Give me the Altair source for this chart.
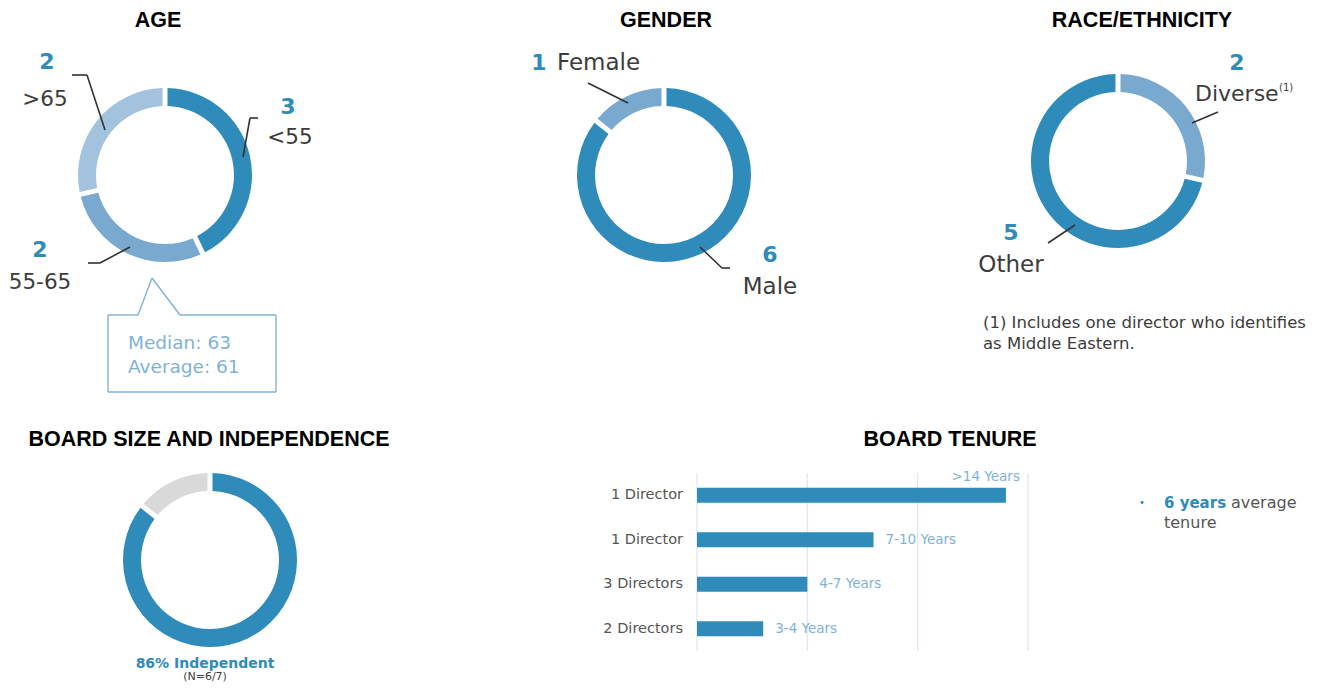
import altair as alt
import pandas as pd

# ---------------- data ----------------
age_labels = ["<55", "55-65", ">65"]
age_counts = [3, 2, 2]
gender_labels = ["Male", "Female"]
gender_counts = [6, 1]
race_labels = ["Diverse", "Other"]
race_counts = [2, 5]
indep_labels = ["Independent", "Not independent"]
indep_counts = [6, 1]

tenure_ranges = [">14 Years", "7-10 Years", "4-7 Years", "3-4 Years"]
tenure_directors = ["1 Director", "1 Director", "3 Directors", "2 Directors"]
tenure_years = [14, 8, 5, 3]
tenure_ticks = [0, 5, 10, 15]

# ---------------- styles ----------------
BLUE = "#2e8bba"
MID = "#79a9cf"
LIGHT = "#a2c2de"
GRAY = "#d9d9d9"
TXT = "#3c3c3c"
LBLUE = "#7fb2d7"
GRID = "#dfe8f4"
LINE = "#333333"
BODY = "DejaVu Sans"
TITLE = "Liberation Sans"

OFF = 8
R_OUT, R_IN, PAD = 87, 69, 0.045
TOTAL = sum(age_counts)


def px(v):
    return v - OFF


one = pd.DataFrame({"k": [0]})


def seg(x1, y1, x2, y2, color=LINE, width=1.6):
    return alt.Chart(one).mark_rule(color=color, strokeWidth=width).encode(
        x=alt.value(px(x1)), y=alt.value(px(y1)),
        x2=alt.value(px(x2)), y2=alt.value(px(y2)))


def label(text, x, y, size, color=TXT, bold=False, align="center", font=BODY):
    return alt.Chart(one).mark_text(
        text=text, fontSize=size, color=color,
        fontWeight="bold" if bold else "normal",
        align=align, baseline="middle", font=font,
    ).encode(x=alt.value(px(x)), y=alt.value(px(y)))


color_domain = age_labels + gender_labels + race_labels + indep_labels
color_range = [BLUE, MID, LIGHT, BLUE, MID, MID, BLUE, BLUE, GRAY]


def donut(labels, counts, cx, cy):
    df = pd.DataFrame({"segment": labels, "count": counts, "i": list(range(len(labels)))})
    return alt.Chart(df).mark_arc(radius=R_OUT, radius2=R_IN, padAngle=PAD).encode(
        theta=alt.Theta("count:Q", stack=True, scale=alt.Scale(domain=[0, TOTAL])),
        color=alt.Color("segment:N", scale=alt.Scale(domain=color_domain, range=color_range), legend=None),
        order=alt.Order("i:Q"),
        x=alt.value(px(cx)), y=alt.value(px(cy)),
    )


layers = []

# titles
TS = 21.5
layers += [
    label("AGE", 158, 21, TS, "#000000", True, font=TITLE),
    label("GENDER", 666, 21, TS, "#000000", True, font=TITLE),
    label("RACE/ETHNICITY", 1142, 21, TS, "#000000", True, font=TITLE),
    label("BOARD SIZE AND INDEPENDENCE", 209, 440, TS, "#000000", True, font=TITLE),
    label("BOARD TENURE", 950, 440, TS, "#000000", True, font=TITLE),
]

# donuts
layers += [
    donut(age_labels, age_counts, 165, 175),
    donut(gender_labels, gender_counts, 664, 175),
    donut(race_labels, race_counts, 1118, 161),
    donut(indep_labels, indep_counts, 210, 560),
]

LS = 21.5
# AGE annotations
layers += [
    label("2", 47, 62, 22, BLUE, True),
    label(">65", 45, 100, LS),
    seg(72, 75, 87, 75), seg(87, 75, 105, 130),
    label("3", 288, 107, 22, BLUE, True),
    label("<55", 290, 138, LS),
    seg(258, 118, 250, 118), seg(250, 118, 243, 157),
    label("2", 40, 250, 22, BLUE, True),
    label("55-65", 40, 283, LS),
    seg(88, 263, 100, 263), seg(100, 263, 130, 247),
]
# callout box
layers += [
    seg(108, 315, 138, 315, LBLUE, 1.4), seg(138, 315, 152, 278, LBLUE, 1.4),
    seg(152, 278, 180, 315, LBLUE, 1.4), seg(180, 315, 276, 315, LBLUE, 1.4),
    seg(276, 315, 276, 392, LBLUE, 1.4), seg(276, 392, 108, 392, LBLUE, 1.4),
    seg(108, 392, 108, 315, LBLUE, 1.4),
    label("Median: 63", 128, 343, 18.5, LBLUE, align="left"),
    label("Average: 61", 128, 367, 18.5, LBLUE, align="left"),
]

# GENDER annotations
layers += [
    label("1", 539, 63, 22, BLUE, True),
    label("Female", 557, 63, 23, align="left"),
    seg(588, 83, 628, 103),
    label("6", 770, 255, 22, BLUE, True),
    label("Male", 770, 287, 23),
    seg(700, 247, 722, 268), seg(722, 268, 730, 268),
]

# RACE annotations
layers += [
    label("2", 1237, 63, 22, BLUE, True),
    label("Diverse", 1195, 94, 22, align="left"),
    label("(1)", 1279, 88, 10, align="left"),
    seg(1218, 112, 1192, 123),
    label("5", 1011, 233, 22, BLUE, True),
    label("Other", 1011, 265, 23),
    seg(1075, 225, 1048, 243),
    label("(1) Includes one director who identifies", 983, 323, 16.5, align="left"),
    label("as Middle Eastern.", 983, 344, 16.5, align="left"),
]

# BOARD SIZE annotations
layers += [
    label("86% Independent", 205, 664, 14, BLUE, True),
    label("(N=6/7)", 205, 677, 11),
]

# BOARD TENURE bars
ten = pd.DataFrame({"range": tenure_ranges, "directors": tenure_directors, "years": tenure_years})
grid = pd.DataFrame({"tick": tenure_ticks})
xs = alt.Scale(domain=[0, 15], range=[px(697), px(1028)])
ys = alt.Scale(domain=tenure_ranges, range=[px(473), px(651)])

layers += [
    alt.Chart(grid).mark_rule(color=GRID, strokeWidth=1.3).encode(
        x=alt.X("tick:Q", scale=xs, axis=None),
        y=alt.value(px(473)), y2=alt.value(px(651))),
    alt.Chart(ten).mark_bar(size=15, color=BLUE).encode(
        x=alt.X("years:Q", scale=xs, axis=None),
        y=alt.Y("range:N", scale=ys, axis=None)),
    alt.Chart(ten).mark_text(align="right", baseline="middle", fontSize=14.5, color="#555555", font=BODY).encode(
        x=alt.value(px(683)),
        y=alt.Y("range:N", scale=ys, axis=None),
        text="directors:N"),
    alt.Chart(ten).transform_filter(alt.datum.range != tenure_ranges[0]).mark_text(
        align="left", baseline="middle", dx=12, fontSize=13.5, color=LBLUE, font=BODY).encode(
        x=alt.X("years:Q", scale=xs, axis=None),
        y=alt.Y("range:N", scale=ys, axis=None),
        text="range:N"),
    alt.Chart(ten).transform_filter(alt.datum.range == tenure_ranges[0]).mark_text(
        align="right", baseline="middle", dx=14, dy=-18, fontSize=13.5, color=LBLUE, font=BODY).encode(
        x=alt.X("years:Q", scale=xs, axis=None),
        y=alt.Y("range:N", scale=ys, axis=None),
        text="range:N"),
]

# tenure note
layers += [
    label("\u2022", 1142, 503, 10, BLUE),
    label("6 years", 1164, 503, 15, BLUE, True, align="left"),
    label("average", 1231, 503, 16, "#555555", align="left"),
    label("tenure", 1164, 523, 16, "#555555", align="left"),
]

chart = alt.layer(*layers).properties(
    width=1307, height=677,
    autosize=alt.AutoSizeParams(type="none"),
    padding=0,
).configure_view(stroke=None)

chart.save("out.html", embed_options={"renderer": "svg", "actions": False})
